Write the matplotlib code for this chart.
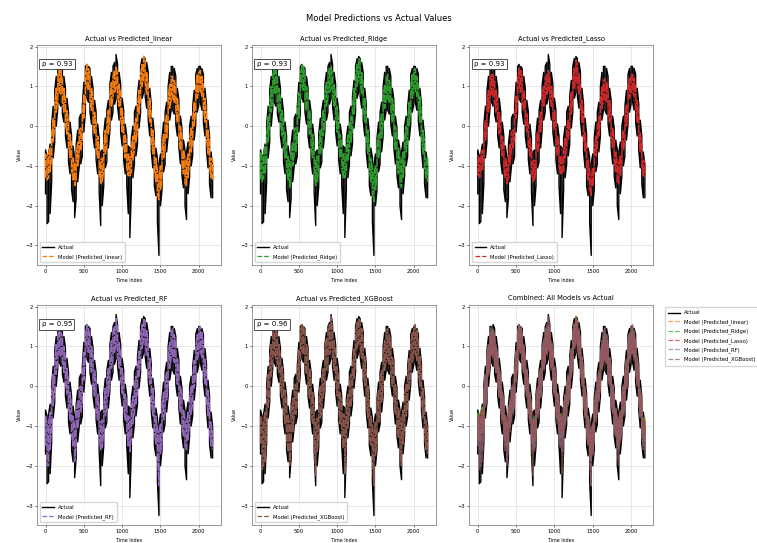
import numpy as np
import matplotlib
matplotlib.use("Agg")
import matplotlib.pyplot as plt
from matplotlib.lines import Line2D

# The series are very noisy (about 2200 points), so each one is read off the
# picture as the low / high extent of the line in windows of 20 time steps.
step = 20

actual_hi = [
    -0.6, -0.75, -0.7, -0.45, 0.05, 0.5, 0.9, 1.25, 1.5, 1.5,
    1.55, 1.45, 1.25, 0.95, 0.7, 0.35, 0.1, -0.25, -0.5, -0.8,
    -0.45, -0.1, 0.2, 0.3, 0.5, 1.1, 1.5, 1.55, 1.5, 1.45,
    1.25, 0.95, 0.65, 0.35, 0.05, -0.3, -0.65, -0.6, -0.2, 0.2,
    0.4, 0.65, 1.05, 1.35, 1.5, 1.6, 1.8, 1.55, 1.35, 1.05,
    0.7, 0.4, 0.05, -0.25, -0.5, -0.55, -0.3, 0.0, 0.35, 0.5,
    0.75, 1.15, 1.5, 1.7, 1.75, 1.7, 1.6, 1.35, 0.95, 0.55,
    0.2, -0.2, -0.55, -0.8, -0.95, -0.7, -0.3, 0.1, 0.35, 0.6,
    1.0, 1.35, 1.5, 1.5, 1.45, 1.25, 0.95, 0.65, 0.25, -0.05,
    -0.35, -0.6, -0.65, -0.4, 0.0, 0.25, 0.5, 0.9, 1.3, 1.45,
    1.5, 1.5, 1.45, 1.3, 0.95, 0.55, 0.15, -0.25, -0.65, -1.0,
]
actual_lo = [
    -1.7, -2.45, -2.4, -2.2, -1.4, -0.8, -0.4, 0.0, 0.45, 0.6,
    0.5, 0.3, 0.1, -0.25, -0.55, -0.9, -1.2, -1.6, -1.9, -2.3,
    -1.8, -1.4, -1.0, -0.95, -0.75, -0.15, 0.35, 0.7, 0.6, 0.35,
    0.05, -0.25, -0.55, -0.85, -1.2, -1.65, -2.5, -2.0, -1.5, -1.05,
    -0.9, -0.55, -0.1, 0.15, 0.35, 0.55, 0.7, 0.5, 0.15, -0.15,
    -0.5, -0.85, -1.2, -1.5, -2.2, -2.8, -1.6, -1.3, -0.95, -0.75,
    -0.45, -0.05, 0.35, 0.7, 0.85, 0.75, 0.45, 0.15, -0.25, -0.65,
    -1.05, -1.5, -1.75, -2.4, -3.25, -2.0, -1.6, -1.15, -0.95, -0.65,
    -0.25, 0.15, 0.4, 0.4, 0.3, 0.05, -0.25, -0.55, -0.95, -1.25,
    -1.55, -2.0, -2.35, -1.7, -1.25, -1.0, -0.75, -0.35, 0.05, 0.35,
    0.55, 0.6, 0.4, 0.1, -0.25, -0.6, -1.05, -1.45, -1.8, -1.8,
]

linear_hi = [
    -0.7, -0.75, -0.7, -0.55, -0.2, 0.2, 0.6, 0.95, 1.3, 1.4,
    1.4, 1.15, 0.95, 0.65, 0.4, 0.1, -0.2, -0.5, -0.8, -0.95,
    -0.75, -0.4, -0.1, -0.05, 0.25, 0.8, 1.3, 1.55, 1.45, 1.25,
    0.95, 0.7, 0.35, 0.05, -0.25, -0.55, -0.85, -0.8, -0.5, -0.1,
    0.05, 0.4, 0.8, 1.1, 1.25, 1.4, 1.5, 1.3, 1.05, 0.8,
    0.45, 0.05, -0.2, -0.55, -0.7, -0.75, -0.55, -0.25, 0.0, 0.2,
    0.5, 0.9, 1.3, 1.55, 1.75, 1.65, 1.35, 1.05, 0.7, 0.3,
    -0.1, -0.5, -0.8, -1.1, -1.25, -1.0, -0.6, -0.2, 0.0, 0.3,
    0.7, 1.05, 1.25, 1.25, 1.15, 0.95, 0.7, 0.4, 0.0, -0.3,
    -0.6, -0.85, -0.9, -0.7, -0.3, -0.05, 0.2, 0.6, 1.0, 1.3,
    1.35, 1.4, 1.25, 1.0, 0.7, 0.3, -0.1, -0.45, -0.8, -0.85,
]
linear_lo = [
    -1.3, -1.35, -1.3, -1.15, -0.8, -0.4, 0.0, 0.35, 0.65, 0.85,
    0.8, 0.6, 0.35, 0.05, -0.2, -0.5, -0.8, -1.1, -1.35, -1.5,
    -1.35, -1.0, -0.7, -0.6, -0.35, 0.2, 0.7, 1.0, 0.9, 0.65,
    0.4, 0.1, -0.2, -0.5, -0.8, -1.15, -1.45, -1.4, -1.1, -0.7,
    -0.5, -0.2, 0.2, 0.5, 0.7, 0.85, 0.95, 0.75, 0.5, 0.2,
    -0.15, -0.5, -0.8, -1.05, -1.25, -1.25, -1.15, -0.85, -0.6, -0.4,
    -0.1, 0.3, 0.7, 1.0, 1.2, 1.1, 0.8, 0.5, 0.1, -0.3,
    -0.7, -1.1, -1.4, -1.7, -1.85, -1.6, -1.2, -0.8, -0.6, -0.3,
    0.1, 0.45, 0.65, 0.7, 0.6, 0.4, 0.1, -0.2, -0.6, -0.9,
    -1.2, -1.45, -1.5, -1.3, -0.9, -0.65, -0.4, 0.0, 0.4, 0.7,
    0.9, 0.9, 0.75, 0.45, 0.1, -0.3, -0.7, -1.05, -1.3, -1.35,
]

ridge_hi = [
    -0.65, -0.75, -0.7, -0.5, -0.2, 0.25, 0.6, 1.0, 1.3, 1.45,
    1.4, 1.2, 0.95, 0.7, 0.4, 0.1, -0.15, -0.5, -0.75, -0.95,
    -0.7, -0.4, -0.05, -0.05, 0.3, 0.85, 1.3, 1.55, 1.5, 1.25,
    1.0, 0.7, 0.4, 0.05, -0.2, -0.55, -0.85, -0.75, -0.5, -0.1,
    0.1, 0.4, 0.85, 1.1, 1.3, 1.45, 1.5, 1.3, 1.05, 0.8,
    0.5, 0.05, -0.2, -0.5, -0.7, -0.7, -0.55, -0.2, 0.0, 0.25,
    0.5, 0.95, 1.3, 1.55, 1.7, 1.65, 1.35, 1.05, 0.7, 0.35,
    -0.1, -0.45, -0.8, -1.05, -1.2, -1.0, -0.55, -0.2, 0.05, 0.3,
    0.7, 1.05, 1.25, 1.3, 1.15, 1.0, 0.7, 0.45, 0.0, -0.3,
    -0.55, -0.85, -0.9, -0.65, -0.3, 0.0, 0.2, 0.6, 1.05, 1.3,
    1.4, 1.45, 1.25, 1.0, 0.75, 0.3, -0.1, -0.4, -0.8, -0.8,
]
ridge_lo = [
    -1.35, -1.4, -1.3, -1.2, -0.8, -0.4, 0.05, 0.35, 0.65, 0.85,
    0.8, 0.6, 0.35, 0.05, -0.25, -0.5, -0.8, -1.1, -1.35, -1.55,
    -1.35, -1.0, -0.7, -0.65, -0.35, 0.2, 0.7, 1.0, 0.9, 0.65,
    0.4, 0.1, -0.2, -0.5, -0.8, -1.15, -1.5, -1.4, -1.1, -0.7,
    -0.5, -0.25, 0.2, 0.5, 0.7, 0.85, 0.95, 0.75, 0.5, 0.2,
    -0.15, -0.5, -0.8, -1.05, -1.3, -1.3, -1.15, -0.85, -0.6, -0.4,
    -0.1, 0.3, 0.7, 1.0, 1.2, 1.1, 0.8, 0.5, 0.1, -0.3,
    -0.7, -1.1, -1.4, -1.7, -1.9, -1.6, -1.2, -0.8, -0.6, -0.3,
    0.1, 0.45, 0.65, 0.7, 0.6, 0.4, 0.1, -0.2, -0.6, -0.9,
    -1.2, -1.45, -1.55, -1.3, -0.9, -0.65, -0.4, 0.0, 0.4, 0.7,
    0.9, 0.9, 0.75, 0.45, 0.1, -0.3, -0.7, -1.05, -1.3, -1.4,
]

lasso_hi = [
    -0.75, -0.8, -0.75, -0.6, -0.25, 0.15, 0.55, 0.9, 1.2, 1.3,
    1.3, 1.1, 0.9, 0.6, 0.35, 0.05, -0.25, -0.55, -0.8, -1.0,
    -0.8, -0.45, -0.15, -0.1, 0.2, 0.75, 1.2, 1.45, 1.4, 1.2,
    0.9, 0.65, 0.3, 0.0, -0.3, -0.6, -0.9, -0.85, -0.55, -0.15,
    0.0, 0.35, 0.75, 1.0, 1.2, 1.3, 1.4, 1.2, 1.0, 0.75,
    0.4, 0.0, -0.25, -0.6, -0.75, -0.8, -0.6, -0.3, -0.05, 0.15,
    0.45, 0.85, 1.2, 1.45, 1.65, 1.55, 1.3, 1.0, 0.65, 0.25,
    -0.15, -0.55, -0.85, -1.15, -1.3, -1.05, -0.65, -0.25, -0.05, 0.25,
    0.65, 1.0, 1.15, 1.2, 1.1, 0.9, 0.65, 0.35, -0.05, -0.35,
    -0.65, -0.9, -0.95, -0.75, -0.35, -0.1, 0.15, 0.55, 0.95, 1.2,
    1.3, 1.3, 1.2, 0.95, 0.65, 0.25, -0.15, -0.5, -0.85, -0.9,
]
lasso_lo = [
    -1.25, -1.3, -1.25, -1.1, -0.75, -0.35, 0.0, 0.35, 0.65, 0.8,
    0.75, 0.6, 0.35, 0.05, -0.2, -0.45, -0.75, -1.05, -1.3, -1.45,
    -1.3, -0.95, -0.65, -0.55, -0.3, 0.2, 0.7, 0.95, 0.85, 0.6,
    0.4, 0.1, -0.15, -0.45, -0.75, -1.1, -1.4, -1.35, -1.05, -0.65,
    -0.45, -0.15, 0.2, 0.5, 0.7, 0.8, 0.9, 0.75, 0.5, 0.2,
    -0.1, -0.45, -0.75, -1.0, -1.2, -1.2, -1.1, -0.8, -0.55, -0.35,
    -0.05, 0.3, 0.7, 0.95, 1.15, 1.05, 0.8, 0.5, 0.1, -0.25,
    -0.65, -1.05, -1.35, -1.6, -1.75, -1.5, -1.15, -0.75, -0.55, -0.25,
    0.1, 0.45, 0.65, 0.7, 0.6, 0.4, 0.1, -0.2, -0.55, -0.85,
    -1.15, -1.4, -1.45, -1.25, -0.85, -0.6, -0.35, 0.0, 0.4, 0.7,
    0.85, 0.85, 0.75, 0.45, 0.1, -0.25, -0.65, -1.0, -1.25, -1.3,
]

rf_hi = [
    -0.75, -0.95, -0.9, -0.65, -0.15, 0.3, 0.7, 1.05, 1.3, 1.4,
    1.35, 1.25, 1.0, 0.7, 0.45, 0.1, -0.15, -0.5, -0.75, -1.0,
    -0.7, -0.35, -0.05, 0.0, 0.25, 0.85, 1.3, 1.55, 1.45, 1.25,
    1.0, 0.7, 0.4, 0.1, -0.2, -0.55, -0.9, -0.85, -0.45, -0.05,
    0.15, 0.45, 0.85, 1.15, 1.35, 1.5, 1.7, 1.45, 1.1, 0.8,
    0.45, 0.1, -0.2, -0.5, -0.75, -0.8, -0.55, -0.25, 0.05, 0.25,
    0.5, 0.9, 1.3, 1.55, 1.7, 1.65, 1.4, 1.1, 0.7, 0.3,
    -0.05, -0.45, -0.75, -1.05, -1.15, -0.95, -0.55, -0.15, 0.05, 0.35,
    0.75, 1.1, 1.35, 1.45, 1.3, 1.0, 0.7, 0.4, 0.0, -0.3,
    -0.6, -0.85, -0.9, -0.65, -0.25, 0.0, 0.25, 0.65, 1.0, 1.3,
    1.45, 1.5, 1.35, 1.05, 0.7, 0.3, -0.1, -0.5, -0.9, -1.2,
]
rf_lo = [
    -1.5, -2.0, -2.0, -1.6, -1.0, -0.5, -0.1, 0.3, 0.65, 0.8,
    0.75, 0.6, 0.35, 0.05, -0.2, -0.55, -0.85, -1.2, -1.5, -1.9,
    -1.5, -1.05, -0.75, -0.65, -0.45, 0.15, 0.65, 0.95, 0.85, 0.6,
    0.35, 0.05, -0.25, -0.55, -0.85, -1.3, -1.6, -1.55, -1.15, -0.75,
    -0.55, -0.25, 0.15, 0.45, 0.65, 0.85, 1.0, 0.75, 0.45, 0.15,
    -0.2, -0.55, -0.85, -1.15, -1.5, -1.65, -1.3, -0.95, -0.65, -0.45,
    -0.15, 0.25, 0.65, 0.95, 1.15, 1.05, 0.75, 0.45, 0.05, -0.35,
    -0.75, -1.15, -1.45, -1.8, -2.5, -1.7, -1.25, -0.85, -0.65, -0.35,
    0.05, 0.45, 0.7, 0.75, 0.6, 0.35, 0.05, -0.25, -0.65, -0.95,
    -1.25, -1.55, -1.6, -1.35, -0.95, -0.7, -0.45, -0.05, 0.35, 0.65,
    0.85, 0.9, 0.7, 0.4, 0.05, -0.35, -0.75, -1.15, -1.5, -1.6,
]

xgb_hi = [
    -0.75, -0.95, -0.85, -0.65, -0.15, 0.3, 0.7, 1.05, 1.4, 1.5,
    1.45, 1.3, 1.05, 0.75, 0.5, 0.15, -0.1, -0.45, -0.7, -0.95,
    -0.65, -0.3, 0.0, 0.05, 0.3, 0.9, 1.4, 1.55, 1.5, 1.35,
    1.05, 0.75, 0.45, 0.15, -0.15, -0.5, -0.85, -0.8, -0.4, 0.0,
    0.2, 0.45, 0.9, 1.2, 1.35, 1.55, 1.75, 1.45, 1.15, 0.85,
    0.5, 0.15, -0.15, -0.45, -0.7, -0.75, -0.5, -0.2, 0.15, 0.3,
    0.55, 0.95, 1.35, 1.6, 1.7, 1.65, 1.45, 1.15, 0.75, 0.35,
    0.0, -0.4, -0.75, -1.0, -1.15, -0.9, -0.5, -0.1, 0.15, 0.4,
    0.8, 1.15, 1.4, 1.45, 1.3, 1.05, 0.75, 0.45, 0.05, -0.25,
    -0.55, -0.8, -0.85, -0.6, -0.2, 0.05, 0.3, 0.7, 1.1, 1.35,
    1.5, 1.55, 1.4, 1.1, 0.75, 0.35, -0.05, -0.45, -0.85, -1.15,
]
xgb_lo = [
    -1.45, -2.1, -2.05, -1.9, -1.1, -0.55, -0.15, 0.25, 0.65, 0.8,
    0.7, 0.55, 0.35, 0.0, -0.3, -0.65, -0.95, -1.35, -1.65, -2.0,
    -1.55, -1.15, -0.75, -0.7, -0.5, 0.1, 0.6, 0.9, 0.8, 0.55,
    0.3, 0.0, -0.3, -0.6, -0.95, -1.4, -2.25, -1.65, -1.25, -0.8,
    -0.65, -0.3, 0.15, 0.4, 0.6, 0.8, 0.95, 0.75, 0.4, 0.1,
    -0.25, -0.6, -0.95, -1.25, -1.55, -2.2, -1.35, -1.05, -0.7, -0.5,
    -0.2, 0.2, 0.6, 0.95, 1.1, 1.0, 0.7, 0.4, 0.0, -0.4,
    -0.8, -1.25, -1.5, -1.85, -2.5, -1.75, -1.35, -0.9, -0.7, -0.4,
    0.0, 0.4, 0.65, 0.65, 0.55, 0.3, 0.0, -0.3, -0.7, -1.0,
    -1.3, -1.65, -2.0, -1.45, -1.0, -0.75, -0.5, -0.1, 0.3, 0.6,
    0.8, 0.85, 0.65, 0.35, 0.0, -0.35, -0.8, -1.2, -1.6, -1.7,
]

model_names = ["Predicted_linear", "Predicted_Ridge", "Predicted_Lasso",
               "Predicted_RF", "Predicted_XGBoost"]
model_lo = [linear_lo, ridge_lo, lasso_lo, rf_lo, xgb_lo]
model_hi = [linear_hi, ridge_hi, lasso_hi, rf_hi, xgb_hi]
model_rho = [0.93, 0.93, 0.93, 0.95, 0.96]
model_colors = ["tab:orange", "tab:green", "tab:red", "tab:purple", "tab:brown"]


def noisy_line(lo, hi):
    # walk the line down/up through each window so it looks like the dense trace
    xs, ys = [], []
    for i, (a, b) in enumerate(zip(lo, hi)):
        t = i * step
        xs += [t, t]
        ys += [a, b] if i % 2 == 0 else [b, a]
    return xs, ys


def style_axes(ax, title):
    ax.set_title(title, fontsize=4.9, pad=3)
    ax.set_xlabel("Time Index", fontsize=3.4, labelpad=3)
    ax.set_ylabel("Value", fontsize=3.4, labelpad=2)
    ax.tick_params(labelsize=3.8, length=1.5, width=0.4, pad=1.5)
    ax.grid(True, color="#dddddd", linewidth=0.5)
    for sp in ax.spines.values():
        sp.set_color("#888888")
        sp.set_linewidth(0.6)
    ax.set_ylim(-3.49, 2.05)
    ax.set_xlim(-110, 2290)
    ax.set_yticks([-3, -2, -1, 0, 1, 2])
    ax.set_xticks([0, 500, 1000, 1500, 2000])


# the dense trace hides the dash gaps, so the lines use short gaps and the
# legends get ordinary dashed proxies
dense_dash = (0, (6, 0.8))
actual_handle = Line2D([0], [0], color="black", lw=1.0, label="Actual")


def model_handle(i, alpha=1.0):
    return Line2D([0], [0], color=model_colors[i], lw=0.9, ls="--", alpha=alpha,
                  label=f"Model ({model_names[i]})")


fig = plt.figure(figsize=(7.57, 5.43), dpi=100)
lefts = [0.049, 0.333, 0.62]
bottoms = [0.512, 0.033]
w, h = 0.243, 0.406
axes = [fig.add_axes([lefts[i % 3], bottoms[i // 3], w, h]) for i in range(6)]

ax_x, ax_y = noisy_line(actual_lo, actual_hi)

for i in range(5):
    ax = axes[i]
    px, py = noisy_line(model_lo[i], model_hi[i])
    ax.plot(ax_x, ax_y, color="black", lw=1.0)
    ax.plot(px, py, color=model_colors[i], lw=1.0, ls=dense_dash)
    ax.text(0.025, 0.925, f"ρ = {model_rho[i]:.2f}", transform=ax.transAxes, fontsize=5.0,
            va="top", ha="left",
            bbox=dict(boxstyle="square,pad=0.35", facecolor="white", edgecolor="#333333", linewidth=0.6))
    style_axes(ax, f"Actual vs {model_names[i]}")
    ax.legend(handles=[actual_handle, model_handle(i)], loc="lower left", fontsize=3.8,
              handlelength=2.2, borderpad=0.5, labelspacing=0.8, framealpha=0.8,
              edgecolor="#cccccc")

ax = axes[5]
ax.plot(ax_x, ax_y, color="black", lw=1.0)
for i in range(5):
    px, py = noisy_line(model_lo[i], model_hi[i])
    ax.plot(px, py, color=model_colors[i], lw=1.0, ls=dense_dash, alpha=0.7)
style_axes(ax, "Combined: All Models vs Actual")
ax.legend(handles=[actual_handle] + [model_handle(i, 0.7) for i in range(5)],
          loc="upper left", bbox_to_anchor=(1.05, 1.0), fontsize=3.8, handlelength=2.2,
          borderpad=0.6, labelspacing=0.7, edgecolor="#cccccc")

fig.suptitle("Model Predictions vs Actual Values", fontsize=6.0, y=0.975)
fig.savefig("out.png", dpi=100)
